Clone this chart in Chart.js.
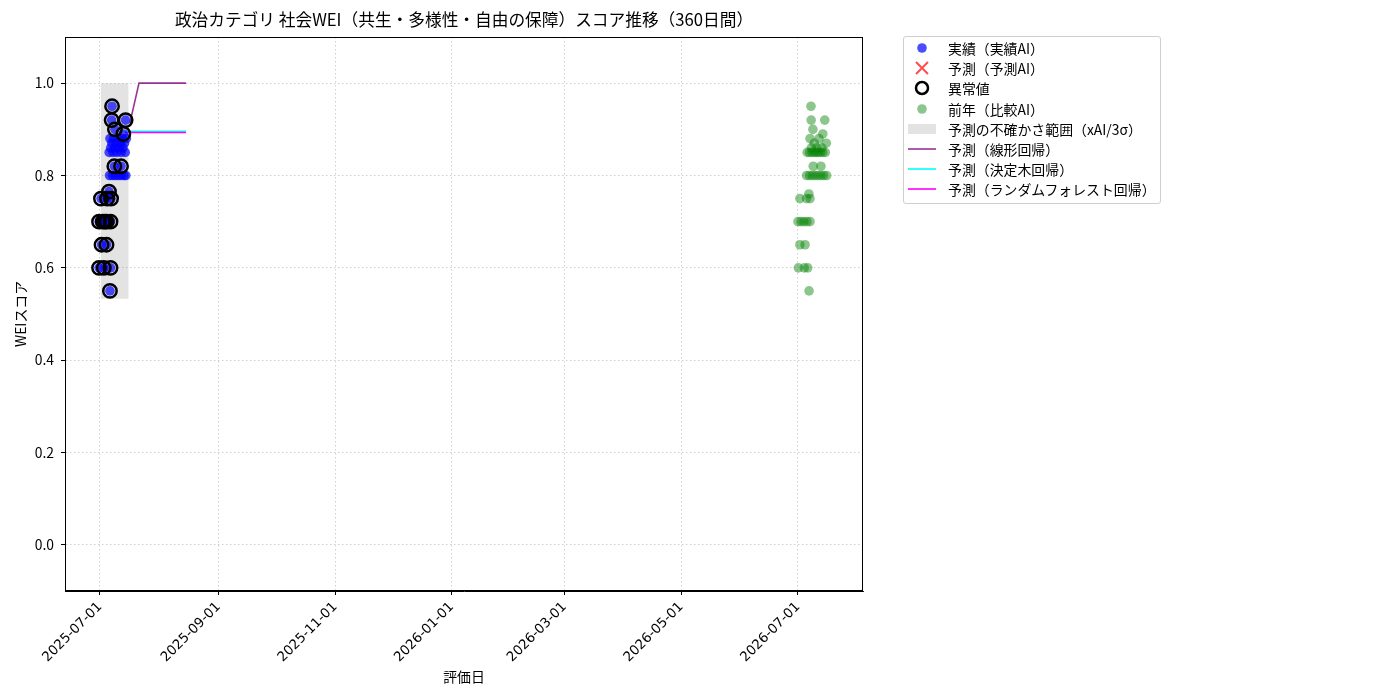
<!DOCTYPE html>
<html lang="ja">
<head>
<meta charset="utf-8">
<title>政治カテゴリ 社会WEI スコア推移</title>
<script src="https://cdn.jsdelivr.net/npm/chart.js@4.4.1/dist/chart.umd.min.js"></script>
<style>
  html, body { margin: 0; padding: 0; background: #fff; }
  body { width: 1400px; height: 700px; position: relative; overflow: hidden;
         font-family: "Noto Sans CJK JP", "Noto Sans", sans-serif; }
  #chart { position: absolute; left: 0; top: 0; }
  #legend { position: absolute; left: 903px; top: 36px; width: 256px;
            border: 1px solid #cfcfcf; border-radius: 3px; background: #fff;
            padding: 1px 0 3px 0; }
  #legend .item { height: 20.2px; display: flex; align-items: center;
                  font-size: 13.9px; color: #000; white-space: nowrap; }
  #legend .mark { width: 36px; height: 16px; display: flex; justify-content: center; align-items: center; }
  #legend .text { margin-left: 8px; }
</style>
</head>
<body>
<canvas id="chart" width="1400" height="700"></canvas>
<div id="legend"></div>
<script>
// 表示テキスト
const chartTitle = "政治カテゴリ 社会WEI（共生・多様性・自由の保障）スコア推移（360日間）";
const xAxisTitle = "評価日";
const yAxisTitle = "WEIスコア";

// x軸は 2025-07-01 からの経過日数
const xTickDays = [0, 62, 123, 184, 243, 304, 365];
const xTickLabels = ["2025-07-01", "2025-09-01", "2025-11-01", "2026-01-01", "2026-03-01", "2026-05-01", "2026-07-01"];
const yTickValues = [0.0, 0.2, 0.4, 0.6, 0.8, 1.0];

// 実績（実績AI）
const actualDays = [6.3, 6.1, 13.4, 7.8, 12.2,
    5.2, 7.0, 9.6, 11.5, 13.8,
    6.2, 8.5, 10.8, 12.8,
    5.6, 7.6, 9.8, 12.0,
    4.8, 6.8, 8.8, 11.0, 13.2,
    7.5, 11.0,
    5.0, 6.5, 8.0, 9.5, 11.0, 12.5, 13.5,
    4.7, 0.5, 3.7, 5.8,
    -0.5, 1.5, 2.6, 3.5, 5.5,
    0.8, 3.4,
    -0.5, 2.0, 5.5,
    5.2];
const actualScores = [0.95, 0.92, 0.92, 0.90, 0.89,
    0.88, 0.88, 0.88, 0.88, 0.88,
    0.87, 0.87, 0.87, 0.87,
    0.86, 0.86, 0.86, 0.86,
    0.85, 0.85, 0.85, 0.85, 0.85,
    0.82, 0.82,
    0.80, 0.80, 0.80, 0.80, 0.80, 0.80, 0.80,
    0.765, 0.75, 0.75, 0.75,
    0.70, 0.70, 0.70, 0.70, 0.70,
    0.65, 0.65,
    0.60, 0.60, 0.60,
    0.55];

// 異常値
const anomalyDays = [6.3, 6.1, 13.4, 7.8, 12.2, 7.5, 11.0,
    4.7, 0.5, 3.7, 5.8, -0.5, 1.5, 2.6, 3.5, 5.5, 0.8, 3.4, -0.5, 2.0, 5.5, 5.2];
const anomalyScores = [0.95, 0.92, 0.92, 0.90, 0.89, 0.82, 0.82,
    0.765, 0.75, 0.75, 0.75, 0.70, 0.70, 0.70, 0.70, 0.70, 0.65, 0.65, 0.60, 0.60, 0.60, 0.55];

// 予測（予測AI）: 該当なし
const predDays = [];
const predScores = [];

// 前年（比較AI）
const prevDays = [371.8, 371.9, 379.0, 372.8, 378.0,
    371.3, 376.0,
    373.5, 379.8,
    372.0, 375.0, 377.5,
    369.8, 371.0, 372.3, 373.5, 374.5, 375.5, 376.7, 378.0, 379.3,
    373.0, 377.0,
    369.5, 371.0, 372.5, 374.0, 375.5, 377.0, 378.5, 380.0,
    370.7, 366.0, 369.5, 371.3,
    365.0, 366.6, 368.1, 369.7, 371.3,
    366.0, 368.7,
    365.2, 368.3, 370.1,
    370.8];
const prevScores = [0.95, 0.92, 0.92, 0.90, 0.89,
    0.88, 0.88,
    0.87, 0.87,
    0.86, 0.86, 0.86,
    0.85, 0.85, 0.85, 0.85, 0.85, 0.85, 0.85, 0.85, 0.85,
    0.82, 0.82,
    0.80, 0.80, 0.80, 0.80, 0.80, 0.80, 0.80, 0.80,
    0.76, 0.75, 0.75, 0.75,
    0.70, 0.70, 0.70, 0.70, 0.70,
    0.65, 0.65,
    0.60, 0.60, 0.60,
    0.55];

// 予測の不確かさ範囲（xAI/3σ）
const bandDays = [0.3, 15.0];
const bandUpper = [1.0, 1.0];
const bandLower = [0.533, 0.533];

// 回帰による予測
const linearDays = [15.6, 20.4, 45.0];
const linearScores = [0.913, 1.0, 1.0];
const treeDays = [13.0, 45.0];
const treeScores = [0.896, 0.896];
const forestDays = [13.0, 45.0];
const forestScores = [0.893, 0.893];

const pts = (xs, ys) => xs.map((x, i) => ({ x: x, y: ys[i] }));
const baseFont = { family: '"Noto Sans CJK JP", "Noto Sans", sans-serif', size: 13.9 };
const dateFont = { family: '"DejaVu Sans", "Noto Sans CJK JP", sans-serif', size: 13.4 };

const frameAndTitle = {
    id: "frameAndTitle",
    afterDraw(chart) {
        const { ctx, chartArea: a } = chart;
        ctx.save();
        ctx.strokeStyle = "#000";
        ctx.lineWidth = 1;
        ctx.strokeRect(a.left + 0.5, a.top + 0.5, a.right - a.left - 1, a.bottom - a.top - 1);
        ctx.fillStyle = "#000";
        ctx.font = '16.7px "Noto Sans CJK JP", sans-serif';
        ctx.textAlign = "center";
        ctx.textBaseline = "middle";
        ctx.fillText(chartTitle, (a.left + a.right) / 2, 20);
        ctx.restore();
    }
};

const lineStyle = { type: "line", pointRadius: 0, borderWidth: 1.6, tension: 0, fill: false };

const chart = new Chart(document.getElementById("chart"), {
    type: "scatter",
    data: {
        datasets: [
            { label: "異常値", data: pts(anomalyDays, anomalyScores), order: 0,
              pointRadius: 6.7, borderWidth: 2.5, borderColor: "#000", backgroundColor: "rgba(0,0,0,0)" },
            { label: "実績（実績AI）", data: pts(actualDays, actualScores), order: 1,
              pointRadius: 4.8, borderWidth: 0, backgroundColor: "rgba(0,0,255,0.7)" },
            { label: "予測（予測AI）", data: pts(predDays, predScores), order: 2,
              pointStyle: "crossRot", pointRadius: 6, borderWidth: 2, borderColor: "rgba(255,0,0,0.7)" },
            { label: "前年（比較AI）", data: pts(prevDays, prevScores), order: 3,
              pointRadius: 4.8, borderWidth: 0, backgroundColor: "rgba(0,128,0,0.45)" },
            { ...lineStyle, label: "予測（ランダムフォレスト回帰）", data: pts(forestDays, forestScores), order: 4,
              borderColor: "#ff00ff" },
            { ...lineStyle, label: "予測（決定木回帰）", data: pts(treeDays, treeScores), order: 5,
              borderColor: "#00ffff" },
            { ...lineStyle, label: "予測（線形回帰）", data: pts(linearDays, linearScores), order: 6,
              borderColor: "rgba(128,0,128,0.8)" },
            { type: "line", label: "予測の不確かさ範囲（xAI/3σ）", data: pts(bandDays, bandUpper), order: 7,
              pointRadius: 0, borderWidth: 0, fill: "+1", backgroundColor: "rgba(128,128,128,0.22)" },
            { type: "line", label: "band-lower", data: pts(bandDays, bandLower), order: 8,
              pointRadius: 0, borderWidth: 0, fill: false }
        ]
    },
    options: {
        responsive: false,
        animation: false,
        devicePixelRatio: 1,
        layout: { padding: { left: 0, right: 537, top: 37, bottom: 0 } },
        plugins: {
            legend: { display: false },
            title: { display: false },
            tooltip: { enabled: false }
        },
        scales: {
            x: {
                type: "linear",
                min: -18.3,
                max: 399,
                afterBuildTicks: s => { s.ticks = xTickDays.map(v => ({ value: v })); },
                afterFit: s => { s.height = 109; },
                ticks: {
                    callback: (v, i) => xTickLabels[i],
                    minRotation: 45, maxRotation: 45,
                    autoSkip: false, padding: 4,
                    color: "#000", font: dateFont
                },
                grid: { color: "#c4c4c4", lineWidth: 0.8, tickColor: "#000", tickWidth: 1, tickLength: 4 },
                border: { color: "#000", width: 1, dash: [1.5, 2.5] },
                title: { display: true, text: xAxisTitle, color: "#000", font: baseFont,
                         padding: { top: 4, bottom: 15 } }
            },
            y: {
                type: "linear",
                min: -0.1,
                max: 1.1,
                afterBuildTicks: s => { s.ticks = yTickValues.map(v => ({ value: v })); },
                afterFit: s => { s.width = 65; },
                ticks: {
                    callback: v => v.toFixed(1),
                    padding: 7, color: "#000", font: baseFont
                },
                grid: { color: "#c4c4c4", lineWidth: 0.8, tickColor: "#000", tickWidth: 1, tickLength: 4 },
                border: { color: "#000", width: 1, dash: [1.5, 2.5] },
                title: { display: true, text: yAxisTitle, color: "#000", font: baseFont,
                         padding: { top: 12, bottom: 4 } }
            }
        }
    },
    plugins: [frameAndTitle]
});

// 凡例（matplotlib 風）
const legendItems = [
    ["実績（実績AI）", '<circle cx="15" cy="8" r="4.8" fill="rgba(0,0,255,0.7)"/>'],
    ["予測（予測AI）", '<path d="M9 2 L21 14 M21 2 L9 14" stroke="rgba(255,0,0,0.7)" stroke-width="2"/>'],
    ["異常値", '<circle cx="15" cy="8" r="6" fill="none" stroke="#000" stroke-width="2.5"/>'],
    ["前年（比較AI）", '<circle cx="15" cy="8" r="4.8" fill="rgba(0,128,0,0.45)"/>'],
    ["予測の不確かさ範囲（xAI/3σ）", '<rect x="1" y="3" width="28" height="10" fill="rgba(128,128,128,0.22)"/>'],
    ["予測（線形回帰）", '<line x1="1" y1="8" x2="29" y2="8" stroke="rgba(128,0,128,0.8)" stroke-width="1.6"/>'],
    ["予測（決定木回帰）", '<line x1="1" y1="8" x2="29" y2="8" stroke="#00ffff" stroke-width="1.6"/>'],
    ["予測（ランダムフォレスト回帰）", '<line x1="1" y1="8" x2="29" y2="8" stroke="#ff00ff" stroke-width="1.6"/>']
];
document.getElementById("legend").innerHTML = legendItems.map(([label, svg]) =>
    '<div class="item"><span class="mark"><svg width="30" height="16" viewBox="0 0 30 16">' + svg +
    '</svg></span><span class="text">' + label + '</span></div>').join("");
</script>
</body>
</html>
